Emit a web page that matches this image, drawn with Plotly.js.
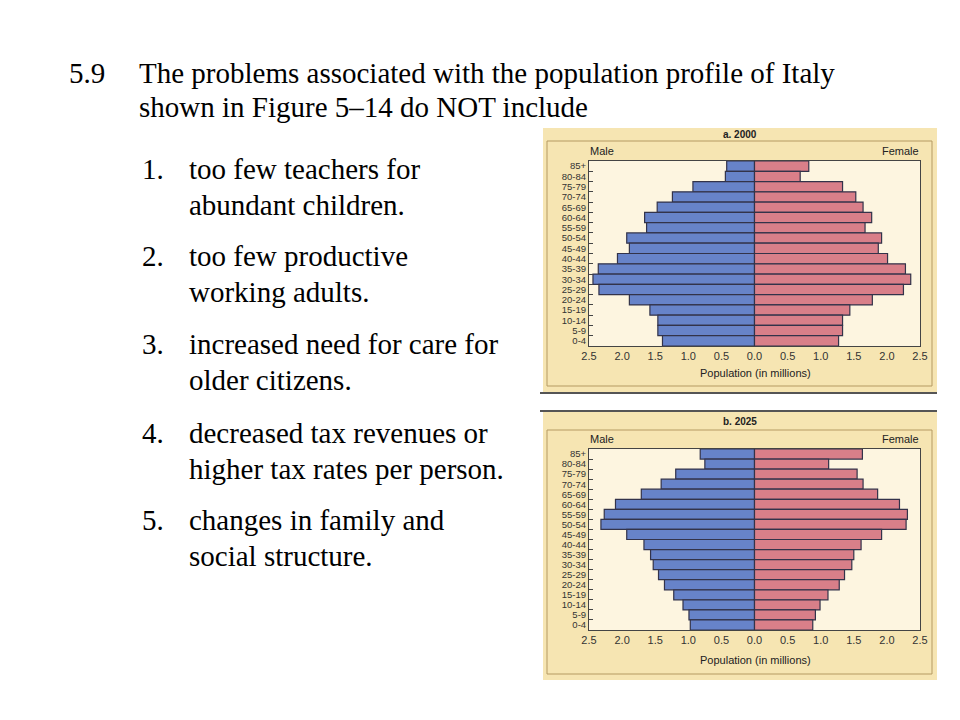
<!DOCTYPE html>
<html>
<head>
<meta charset="utf-8">
<script src="https://cdn.plot.ly/plotly-3.0.1.min.js"></script>
<style>html,body{margin:0;padding:0;background:#fff;}#chart{width:960px;height:720px;}</style>
</head>
<body>
<div id="chart"></div>
<script>
// Age groups, top to bottom
const ageGroups = ["85+","80-84","75-79","70-74","65-69","60-64","55-59","50-54","45-49","40-44","35-39","30-34","25-29","20-24","15-19","10-14","5-9","0-4"];
// Population in millions
const male2000   = [0.42,0.44,0.93,1.24,1.47,1.66,1.63,1.93,1.89,2.07,2.36,2.44,2.35,1.89,1.58,1.46,1.46,1.39];
const female2000 = [0.82,0.69,1.33,1.53,1.64,1.77,1.67,1.92,1.87,2.01,2.28,2.36,2.25,1.78,1.44,1.33,1.33,1.27];
const male2025   = [0.82,0.75,1.19,1.41,1.71,2.10,2.27,2.32,1.93,1.67,1.57,1.53,1.45,1.36,1.22,1.08,0.99,0.97];
const female2025 = [1.63,1.12,1.55,1.64,1.86,2.19,2.31,2.29,1.92,1.61,1.50,1.47,1.36,1.28,1.11,0.99,0.92,0.88];
const xTickVals  = [-2.5,-2.0,-1.5,-1.0,-0.5,0,0.5,1.0,1.5,2.0,2.5];
const xTickText  = ["2.5","2.0","1.5","1.0","0.5","0.0","0.5","1.0","1.5","2.0","2.5"];

const W = 960, H = 720;
const px = x => x / W;
const py = y => 1 - y / H;

const MALE = "#6783c9", FEMALE = "#d97f89", OUT = "#33334a";
const sans = "Liberation Sans, Arial, sans-serif";
const serif = "Liberation Serif, Times New Roman, serif";

function bars(vals, neg, color, xa, ya) {
  return {
    type: "bar", orientation: "h",
    y: ageGroups, x: vals.map(v => neg ? -v : v),
    xaxis: xa, yaxis: ya,
    marker: { color: color, line: { color: OUT, width: 1.2 } },
    width: 1, showlegend: false, hoverinfo: "skip"
  };
}

const data = [
  bars(male2000, true, MALE, "x", "y"),
  bars(female2000, false, FEMALE, "x", "y"),
  bars(male2025, true, MALE, "x2", "y2"),
  bars(female2025, false, FEMALE, "x2", "y2")
];

function xaxisDef(anchor) {
  return {
    domain: [px(589), px(920)], anchor: anchor,
    range: [-2.5, 2.5], tickvals: xTickVals, ticktext: xTickText,
    showgrid: false, zeroline: true, zerolinecolor: OUT, zerolinewidth: 1,
    showline: true, linecolor: "#444", linewidth: 1, mirror: true,
    ticks: "", tickfont: { family: sans, size: 11, color: "#333" },
    fixedrange: true
  };
}
function yaxisDef(anchor, top, bottom) {
  return {
    domain: [py(bottom), py(top)], anchor: anchor,
    type: "category", autorange: "reversed",
    tickmode: "array", tickvals: ageGroups, ticktext: ageGroups,
    tickson: "boundaries",
    showgrid: false, showline: true, linecolor: "#444", linewidth: 1, mirror: true,
    ticks: "inside", ticklen: 4, tickcolor: "#444",
    tickfont: { family: sans, size: 9.5, color: "#333" },
    fixedrange: true
  };
}

const shapes = [
  // top panel
  { type: "rect", xref: "paper", yref: "paper", x0: px(543), x1: px(937), y0: py(392), y1: py(128), fillcolor: "#f6e5b2", line: { width: 0 }, layer: "below" },
  { type: "rect", xref: "paper", yref: "paper", x0: px(547), x1: px(932), y0: py(386), y1: py(141), fillcolor: "rgba(0,0,0,0)", line: { color: "#b59a63", width: 1 }, layer: "below" },
  { type: "rect", xref: "paper", yref: "paper", x0: px(589), x1: px(920), y0: py(346), y1: py(161), fillcolor: "#fdf5e0", line: { width: 0 }, layer: "below" },
  // separator lines
  { type: "line", xref: "paper", yref: "paper", x0: px(540), x1: px(937), y0: py(393), y1: py(393), line: { color: "#555", width: 2 }, layer: "below" },
  { type: "line", xref: "paper", yref: "paper", x0: px(540), x1: px(937), y0: py(411), y1: py(411), line: { color: "#555", width: 2 }, layer: "below" },
  // bottom panel
  { type: "rect", xref: "paper", yref: "paper", x0: px(543), x1: px(937), y0: py(680), y1: py(412), fillcolor: "#f6e5b2", line: { width: 0 }, layer: "below" },
  { type: "rect", xref: "paper", yref: "paper", x0: px(547), x1: px(932), y0: py(674), y1: py(430), fillcolor: "rgba(0,0,0,0)", line: { color: "#b59a63", width: 1 }, layer: "below" },
  { type: "rect", xref: "paper", yref: "paper", x0: px(589), x1: px(920), y0: py(630), y1: py(449), fillcolor: "#fdf5e0", line: { width: 0 }, layer: "below" }
];

function note(text, x, y, opts) {
  return Object.assign({
    text: text, xref: "paper", yref: "paper", x: px(x), y: py(y),
    xanchor: "left", yanchor: "middle", showarrow: false,
    font: { family: serif, size: 29, color: "#000" }
  }, opts || {});
}
const small = { family: sans, size: 11, color: "#222" };

const annotations = [
  note("5.9", 67, 73),
  note("The problems associated with the population profile of Italy", 137, 73),
  note("shown in Figure 5\u201314 do NOT include", 137, 107),
  note("1.", 140, 169), note("too few teachers for", 187, 169), note("abundant children.", 187, 205),
  note("2.", 140, 256), note("too few productive", 187, 256), note("working adults.", 187, 292),
  note("3.", 140, 344), note("increased need for care for", 187, 344), note("older citizens.", 187, 380),
  note("4.", 140, 433), note("decreased tax revenues or", 187, 433), note("higher tax rates per person.", 187, 469),
  note("5.", 140, 520), note("changes in family and", 187, 520), note("social structure.", 187, 556),
  // chart a
  note("<b>a. 2000</b>", 740, 134, { xanchor: "center", font: { family: sans, size: 10, color: "#222" } }),
  note("Male", 588, 151, { font: small }),
  note("Female", 921, 151, { xanchor: "right", font: small }),
  note("Population (in millions)", 755, 373, { xanchor: "center", font: small }),
  // chart b
  note("<b>b. 2025</b>", 740, 421, { xanchor: "center", font: { family: sans, size: 10, color: "#222" } }),
  note("Male", 588, 439, { font: small }),
  note("Female", 921, 439, { xanchor: "right", font: small }),
  note("Population (in millions)", 755, 660, { xanchor: "center", font: small })
];

const layout = {
  width: W, height: H,
  margin: { l: 0, r: 0, t: 0, b: 0 },
  paper_bgcolor: "#ffffff", plot_bgcolor: "rgba(0,0,0,0)",
  barmode: "overlay", bargap: 0,
  showlegend: false,
  xaxis: xaxisDef("y"),
  yaxis: yaxisDef("x", 161, 346),
  xaxis2: xaxisDef("y2"),
  yaxis2: yaxisDef("x2", 449, 630),
  shapes: shapes,
  annotations: annotations
};

Plotly.newPlot("chart", data, layout, { staticPlot: true, displayModeBar: false });
</script>
</body>
</html>
